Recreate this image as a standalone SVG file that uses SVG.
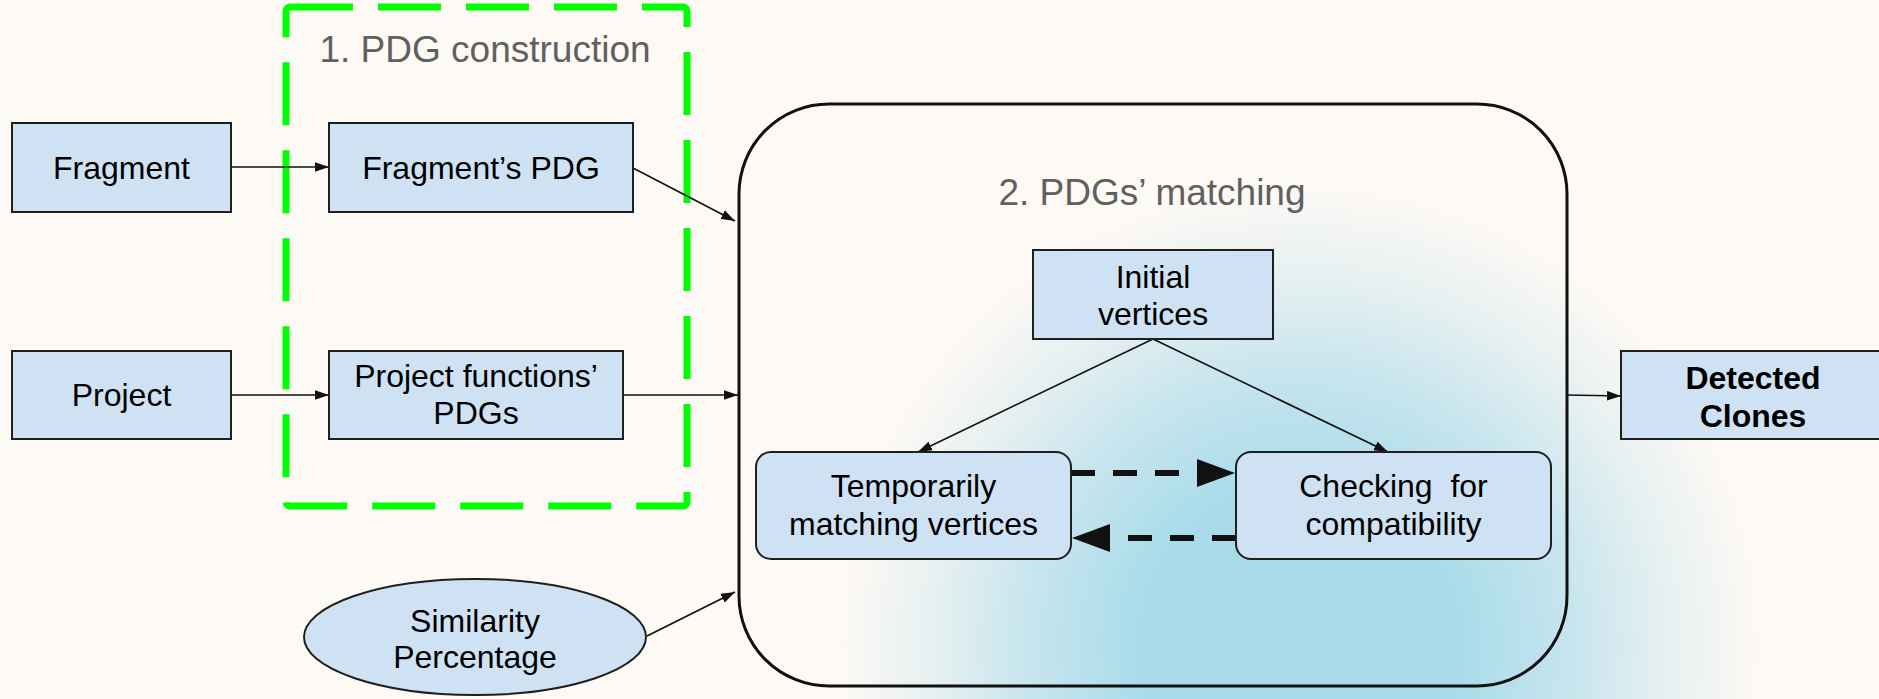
<svg xmlns="http://www.w3.org/2000/svg" width="1879" height="699" viewBox="0 0 1879 699">
<style>
.node{fill:#cfe2f3;stroke:#1f1f1f;stroke-width:2}
.t{font-family:"Liberation Sans",Arial,sans-serif;font-size:32px;fill:#000;text-anchor:middle}
.b{font-weight:bold}
.title{font-family:"Liberation Sans",Arial,sans-serif;font-size:37px;fill:#606060;text-anchor:middle}
.thin{stroke:#111;stroke-width:1.6;fill:none;marker-end:url(#ah)}
.dash{stroke:#111;stroke-width:6;fill:none;stroke-dasharray:24 18;marker-end:url(#big)}
</style>
<defs>
<radialGradient id="glow" gradientUnits="userSpaceOnUse" cx="1300" cy="645" r="460">
<stop offset="0" stop-color="#a7dbeb"/>
<stop offset="0.35" stop-color="#a9dcea"/>
<stop offset="0.6" stop-color="#c8e5ee"/>
<stop offset="0.8" stop-color="#e6f0f1"/>
<stop offset="1" stop-color="#fdf9f5"/>
</radialGradient>
<marker id="ah" markerUnits="userSpaceOnUse" markerWidth="14" markerHeight="10" viewBox="0 0 13 9" refX="13" refY="4.5" orient="auto">
<path d="M0,0 L13,4.5 L0,9 Z" fill="#111"/>
</marker>
<marker id="big" markerUnits="userSpaceOnUse" markerWidth="38" markerHeight="28" viewBox="0 0 38 28" refX="0" refY="14" orient="auto">
<path d="M0,0 L38,14 L0,28 Z" fill="#111"/>
</marker>
</defs>
<rect x="0" y="0" width="1879" height="699" fill="#fdf9f5"/>
<rect x="0" y="0" width="1879" height="699" fill="url(#glow)"/>

<g id="pdg-construction">
<rect x="286" y="7" width="401" height="499" rx="4" fill="none" stroke="#00ff00" stroke-width="7" stroke-dasharray="63 25"/>
<text class="title" x="485" y="62">1. PDG construction</text>
</g>

<g id="pdgs-matching">
<rect x="739" y="104" width="828" height="582" rx="90" fill="none" stroke="#111" stroke-width="3"/>
<text class="title" x="1152" y="205">2. PDGs’ matching</text>
</g>

<g id="connectors">
<line class="thin" x1="231" y1="167" x2="329" y2="167"/>
<line class="thin" x1="633" y1="168" x2="735" y2="221"/>
<line class="thin" x1="231" y1="395" x2="329" y2="395"/>
<line class="thin" x1="623" y1="395" x2="738" y2="395"/>
<line class="thin" x1="647" y1="636" x2="735" y2="592"/>
<line class="thin" x1="1153" y1="339" x2="918" y2="452"/>
<line class="thin" x1="1153" y1="339" x2="1388" y2="452"/>
<line class="thin" x1="1567" y1="395" x2="1621" y2="396"/>
<line class="dash" x1="1071" y1="473" x2="1197" y2="473"/>
<line class="dash" x1="1236" y1="538" x2="1110" y2="538"/>
</g>

<g id="fragment">
<rect class="node" x="12" y="123" width="219" height="89"/>
<text class="t" x="121.5" y="179">Fragment</text>
</g>
<g id="fragment-pdg">
<rect class="node" x="329" y="123" width="304" height="89"/>
<text class="t" x="481" y="179">Fragment’s PDG</text>
</g>
<g id="project">
<rect class="node" x="12" y="351" width="219" height="88"/>
<text class="t" x="121.5" y="406">Project</text>
</g>
<g id="project-pdgs">
<rect class="node" x="329" y="351" width="294" height="88"/>
<text class="t" x="476" y="387">Project functions’</text>
<text class="t" x="476" y="424">PDGs</text>
</g>
<g id="similarity">
<ellipse class="node" cx="475" cy="637" rx="171" ry="58"/>
<text class="t" x="475" y="632">Similarity</text>
<text class="t" x="475" y="668">Percentage</text>
</g>
<g id="initial-vertices">
<rect class="node" x="1033" y="250" width="240" height="89"/>
<text class="t" x="1153" y="288">Initial</text>
<text class="t" x="1153" y="325">vertices</text>
</g>
<g id="temporarily-matching">
<rect class="node" x="756" y="452" width="315" height="107" rx="15"/>
<text class="t" x="913.5" y="497">Temporarily</text>
<text class="t" x="913.5" y="535">matching vertices</text>
</g>
<g id="checking">
<rect class="node" x="1236" y="452" width="315" height="107" rx="15"/>
<text class="t" x="1393.5" y="497">Checking&#160; for</text>
<text class="t" x="1393.5" y="535">compatibility</text>
</g>
<g id="detected-clones">
<rect class="node" x="1621" y="351" width="275" height="88"/>
<text class="t b" x="1753" y="389">Detected</text>
<text class="t b" x="1753" y="427">Clones</text>
</g>
</svg>
